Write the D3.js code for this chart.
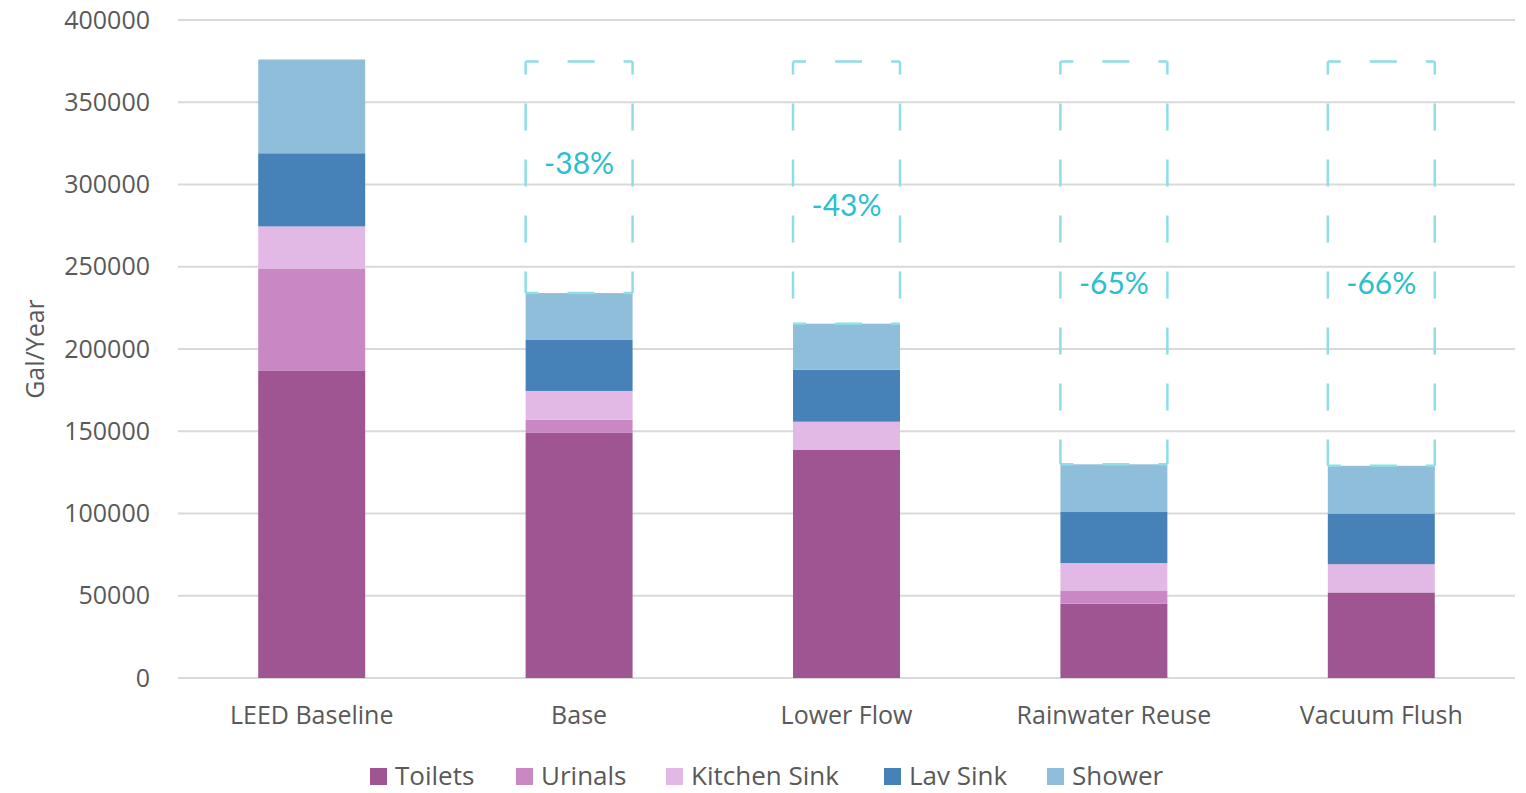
<!DOCTYPE html>
<html>
<head>
<meta charset="utf-8">
<script src="https://cdn.jsdelivr.net/npm/d3@7"></script>
<style>
  html, body { margin: 0; padding: 0; background: #fff; }
  svg { display: block; }
</style>
</head>
<body>
<svg id="chart" width="1526" height="793"></svg>
<script>
// ---- data ----
const categories = ["LEED Baseline", "Base", "Lower Flow", "Rainwater Reuse", "Vacuum Flush"];
const seriesNames = ["Toilets", "Urinals", "Kitchen Sink", "Lav Sink", "Shower"];
const toilets     = [187000, 149000, 138600, 45200, 52000];
const urinals     = [62000, 8000, 0, 7700, 0];
const kitchenSink = [25500, 17500, 17200, 17000, 17200];
const lavSink     = [44500, 31000, 31600, 31000, 30800];
const shower      = [57000, 28500, 28000, 29000, 29000];
const yTicks      = [0, 50000, 100000, 150000, 200000, 250000, 300000, 350000, 400000];
const reductionLabels = [null, "-38%", "-43%", "-65%", "-66%"];
const reductionLabelAt = [null, 313000, 287000, 240000, 240000]; // label height in Gal/Year
const colors = ["#9e5591", "#c988c4", "#e2b8e4", "#4682b8", "#8fbedb"];

// ---- layout ----
const svg = d3.select("#chart");
const margin = { left: 178, right: 11, top: 20, bottom: 115 };
const W = 1526, H = 793;
const x = d3.scaleBand().domain(categories).range([margin.left, W - margin.right])
  .paddingInner(0.6).paddingOuter(0.3);
const y = d3.scaleLinear().domain([0, 400000]).range([H - margin.bottom, margin.top]);

const textColor = "#595959";
const font = "'Open Sans', 'Noto Sans', sans-serif";

// gridlines
svg.append("g").selectAll("line").data(yTicks).join("line")
  .attr("x1", margin.left).attr("x2", W - margin.right)
  .attr("y1", d => y(d)).attr("y2", d => y(d))
  .attr("stroke", "#d9d9d9").attr("stroke-width", 2);

// y axis labels
const yAxis = d3.axisLeft(y).tickValues(yTicks).tickSize(0).tickPadding(28).tickFormat(d3.format("d"));
const yg = svg.append("g").attr("transform", `translate(${margin.left},0)`).call(yAxis);
yg.select(".domain").remove();
yg.selectAll("text").attr("fill", textColor).style("font-family", font).style("font-size", "25px");

// y title
svg.append("text")
  .attr("transform", `translate(44,${(y(0) + y(400000)) / 2}) rotate(-90)`)
  .attr("text-anchor", "middle")
  .attr("fill", textColor).style("font-family", font).style("font-size", "25px")
  .text("Gal/Year");

// stacked data
const table = categories.map((c, i) => ({
  cat: c,
  "Toilets": toilets[i], "Urinals": urinals[i], "Kitchen Sink": kitchenSink[i],
  "Lav Sink": lavSink[i], "Shower": shower[i]
}));
const stacked = d3.stack().keys(seriesNames)(table);

svg.append("g").selectAll("g").data(stacked).join("g")
  .attr("fill", (d, i) => colors[i])
  .selectAll("rect").data(d => d).join("rect")
  .attr("x", d => x(d.data.cat))
  .attr("width", x.bandwidth())
  .attr("y", d => y(d[1]))
  .attr("height", d => y(d[0]) - y(d[1]));

// dashed reduction boxes
const baselineTotal = stacked[stacked.length - 1][0][1];
const dashColor = "#8fdde5";
const boxG = svg.append("g");
categories.forEach((c, i) => {
  if (!reductionLabels[i]) return;
  const total = stacked[stacked.length - 1][i][1];
  const x0 = x(c), x1 = x(c) + x.bandwidth();
  const yTop = y(baselineTotal) + 2, yBot = y(total);
  const sides = [
    [x0, yTop, x1, yTop], [x0, yBot, x1, yBot],
    [x0, yTop, x0, yBot], [x1, yTop, x1, yBot]
  ];
  sides.forEach(s => {
    boxG.append("line")
      .attr("x1", s[0]).attr("y1", s[1]).attr("x2", s[2]).attr("y2", s[3])
      .attr("stroke", dashColor).attr("stroke-width", 2.5)
      .attr("stroke-dasharray", "27,29").attr("stroke-dashoffset", 14);
  });
  svg.append("text")
    .attr("x", x(c) + x.bandwidth() / 2)
    .attr("y", y(reductionLabelAt[i]))
    .attr("dy", "0.35em")
    .attr("text-anchor", "middle")
    .attr("fill", "#2bbfcf")
    .style("font-family", "'Lato', 'Open Sans', sans-serif").style("font-size", "30px")
    .text(reductionLabels[i]);
});

// x axis labels
const xAxis = d3.axisBottom(x).tickSize(0).tickPadding(28);
const xg = svg.append("g").attr("transform", `translate(0,${y(0)})`).call(xAxis);
xg.select(".domain").remove();
xg.selectAll("text").attr("fill", textColor).style("font-family", font).style("font-size", "25px");

// legend
const legendX = [370, 516, 666, 884, 1047];
const lg = svg.append("g").selectAll("g").data(seriesNames).join("g")
  .attr("transform", (d, i) => `translate(${legendX[i]},775)`);
lg.append("rect").attr("x", 0).attr("y", -7).attr("width", 17).attr("height", 17)
  .attr("fill", (d, i) => colors[i]);
lg.append("text").attr("x", 25).attr("y", 1).attr("dy", "0.35em")
  .attr("fill", textColor).style("font-family", font).style("font-size", "26px")
  .text(d => d);
</script>
</body>
</html>
